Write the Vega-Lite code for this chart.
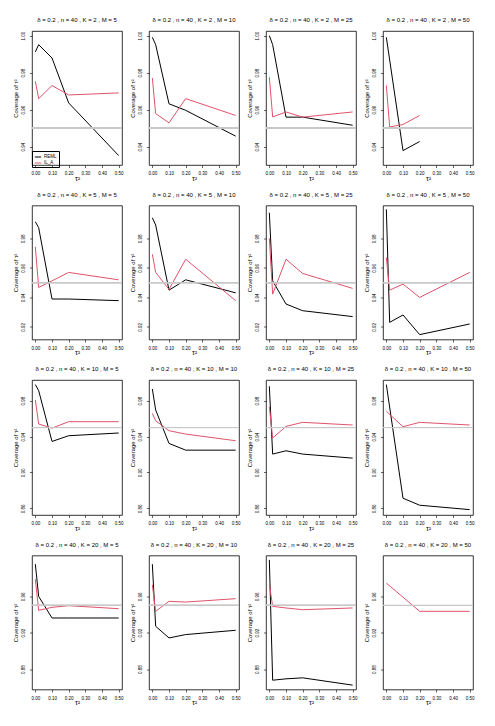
{
"$schema": "https://vega.github.io/schema/vega-lite/v6.json",
"background": "white",
"padding": {"left": 12, "top": 17, "right": 5, "bottom": 5},
"datasets": {"d": [
{"K":2,"M":5,"m":"REML","t":0,"c":0.9912},{"K":2,"M":5,"m":"REML","t":0.02,"c":0.9951},{"K":2,"M":5,"m":"REML","t":0.1,"c":0.9879},{"K":2,"M":5,"m":"REML","t":0.2,"c":0.9636},{"K":2,"M":5,"m":"REML","t":0.5,"c":0.9351},
{"K":2,"M":5,"m":"IL_A","t":0,"c":0.9753},{"K":2,"M":5,"m":"IL_A","t":0.02,"c":0.9659},{"K":2,"M":5,"m":"IL_A","t":0.1,"c":0.9730},{"K":2,"M":5,"m":"IL_A","t":0.2,"c":0.9679},{"K":2,"M":5,"m":"IL_A","t":0.5,"c":0.9690},
{"K":2,"M":10,"m":"REML","t":0,"c":0.9991},{"K":2,"M":10,"m":"REML","t":0.02,"c":0.9951},{"K":2,"M":10,"m":"REML","t":0.1,"c":0.9631},{"K":2,"M":10,"m":"REML","t":0.2,"c":0.9596},{"K":2,"M":10,"m":"REML","t":0.5,"c":0.9456},
{"K":2,"M":10,"m":"IL_A","t":0,"c":0.9771},{"K":2,"M":10,"m":"IL_A","t":0.02,"c":0.9578},{"K":2,"M":10,"m":"IL_A","t":0.1,"c":0.9528},{"K":2,"M":10,"m":"IL_A","t":0.2,"c":0.9659},{"K":2,"M":10,"m":"IL_A","t":0.5,"c":0.9568},
{"K":2,"M":25,"m":"REML","t":0,"c":1.0},{"K":2,"M":25,"m":"REML","t":0.02,"c":0.9951},{"K":2,"M":25,"m":"REML","t":0.1,"c":0.9559},{"K":2,"M":25,"m":"REML","t":0.2,"c":0.9559},{"K":2,"M":25,"m":"REML","t":0.5,"c":0.9515},
{"K":2,"M":25,"m":"IL_A","t":0,"c":0.9775},{"K":2,"M":25,"m":"IL_A","t":0.02,"c":0.9560},{"K":2,"M":25,"m":"IL_A","t":0.1,"c":0.9587},{"K":2,"M":25,"m":"IL_A","t":0.2,"c":0.9559},{"K":2,"M":25,"m":"IL_A","t":0.5,"c":0.9587},
{"K":2,"M":50,"m":"REML","t":0,"c":0.9991},{"K":2,"M":50,"m":"REML","t":0.1,"c":0.9378},{"K":2,"M":50,"m":"REML","t":0.2,"c":0.9427},
{"K":2,"M":50,"m":"IL_A","t":0,"c":0.9730},{"K":2,"M":50,"m":"IL_A","t":0.02,"c":0.9506},{"K":2,"M":50,"m":"IL_A","t":0.1,"c":0.9519},{"K":2,"M":50,"m":"IL_A","t":0.2,"c":0.9568},
{"K":5,"M":5,"m":"REML","t":0,"c":0.9912},{"K":5,"M":5,"m":"REML","t":0.02,"c":0.9872},{"K":5,"M":5,"m":"REML","t":0.1,"c":0.9389},{"K":5,"M":5,"m":"REML","t":0.2,"c":0.9389},{"K":5,"M":5,"m":"REML","t":0.5,"c":0.9378},
{"K":5,"M":5,"m":"IL_A","t":0,"c":0.9742},{"K":5,"M":5,"m":"IL_A","t":0.02,"c":0.9467},{"K":5,"M":5,"m":"IL_A","t":0.1,"c":0.9512},{"K":5,"M":5,"m":"IL_A","t":0.2,"c":0.9569},{"K":5,"M":5,"m":"IL_A","t":0.5,"c":0.9519},
{"K":5,"M":10,"m":"REML","t":0,"c":0.9939},{"K":5,"M":10,"m":"REML","t":0.02,"c":0.9890},{"K":5,"M":10,"m":"REML","t":0.1,"c":0.9449},{"K":5,"M":10,"m":"REML","t":0.2,"c":0.9519},{"K":5,"M":10,"m":"REML","t":0.5,"c":0.9431},
{"K":5,"M":10,"m":"IL_A","t":0,"c":0.9692},{"K":5,"M":10,"m":"IL_A","t":0.02,"c":0.9569},{"K":5,"M":10,"m":"IL_A","t":0.1,"c":0.9454},{"K":5,"M":10,"m":"IL_A","t":0.2,"c":0.9658},{"K":5,"M":10,"m":"IL_A","t":0.5,"c":0.9378},
{"K":5,"M":25,"m":"REML","t":0,"c":0.9973},{"K":5,"M":25,"m":"REML","t":0.02,"c":0.9512},{"K":5,"M":25,"m":"REML","t":0.1,"c":0.9355},{"K":5,"M":25,"m":"REML","t":0.2,"c":0.9310},{"K":5,"M":25,"m":"REML","t":0.5,"c":0.9270},
{"K":5,"M":25,"m":"IL_A","t":0,"c":0.9800},{"K":5,"M":25,"m":"IL_A","t":0.02,"c":0.9422},{"K":5,"M":25,"m":"IL_A","t":0.1,"c":0.9658},{"K":5,"M":25,"m":"IL_A","t":0.2,"c":0.9562},{"K":5,"M":25,"m":"IL_A","t":0.5,"c":0.9461},
{"K":5,"M":50,"m":"REML","t":0,"c":0.9996},{"K":5,"M":50,"m":"REML","t":0.02,"c":0.9231},{"K":5,"M":50,"m":"REML","t":0.1,"c":0.9281},{"K":5,"M":50,"m":"REML","t":0.2,"c":0.9148},{"K":5,"M":50,"m":"REML","t":0.5,"c":0.9220},
{"K":5,"M":50,"m":"IL_A","t":0,"c":0.9670},{"K":5,"M":50,"m":"IL_A","t":0.02,"c":0.9449},{"K":5,"M":50,"m":"IL_A","t":0.1,"c":0.9490},{"K":5,"M":50,"m":"IL_A","t":0.2,"c":0.9400},{"K":5,"M":50,"m":"IL_A","t":0.5,"c":0.9569},
{"K":10,"M":5,"m":"REML","t":0,"c":0.9979},{"K":10,"M":5,"m":"REML","t":0.02,"c":0.9912},{"K":10,"M":5,"m":"REML","t":0.1,"c":0.9345},{"K":10,"M":5,"m":"REML","t":0.2,"c":0.9409},{"K":10,"M":5,"m":"REML","t":0.5,"c":0.9439},
{"K":10,"M":5,"m":"IL_A","t":0,"c":0.9807},{"K":10,"M":5,"m":"IL_A","t":0.02,"c":0.9539},{"K":10,"M":5,"m":"IL_A","t":0.1,"c":0.9494},{"K":10,"M":5,"m":"IL_A","t":0.2,"c":0.9565},{"K":10,"M":5,"m":"IL_A","t":0.5,"c":0.9565},
{"K":10,"M":10,"m":"REML","t":0,"c":0.9930},{"K":10,"M":10,"m":"REML","t":0.02,"c":0.9696},{"K":10,"M":10,"m":"REML","t":0.1,"c":0.9323},{"K":10,"M":10,"m":"REML","t":0.2,"c":0.9248},{"K":10,"M":10,"m":"REML","t":0.5,"c":0.9248},
{"K":10,"M":10,"m":"IL_A","t":0,"c":0.9658},{"K":10,"M":10,"m":"IL_A","t":0.02,"c":0.9576},{"K":10,"M":10,"m":"IL_A","t":0.1,"c":0.9465},{"K":10,"M":10,"m":"IL_A","t":0.2,"c":0.9427},{"K":10,"M":10,"m":"IL_A","t":0.5,"c":0.9353},
{"K":10,"M":25,"m":"REML","t":0,"c":0.9960},{"K":10,"M":25,"m":"REML","t":0.02,"c":0.9204},{"K":10,"M":25,"m":"REML","t":0.1,"c":0.9241},{"K":10,"M":25,"m":"REML","t":0.2,"c":0.9204},{"K":10,"M":25,"m":"REML","t":0.5,"c":0.9159},
{"K":10,"M":25,"m":"IL_A","t":0,"c":0.9733},{"K":10,"M":25,"m":"IL_A","t":0.02,"c":0.9383},{"K":10,"M":25,"m":"IL_A","t":0.1,"c":0.9513},{"K":10,"M":25,"m":"IL_A","t":0.2,"c":0.9558},{"K":10,"M":25,"m":"IL_A","t":0.5,"c":0.9528},
{"K":10,"M":50,"m":"REML","t":0,"c":0.9979},{"K":10,"M":50,"m":"REML","t":0.1,"c":0.8712},{"K":10,"M":50,"m":"REML","t":0.2,"c":0.8634},{"K":10,"M":50,"m":"REML","t":0.5,"c":0.8585},
{"K":10,"M":50,"m":"IL_A","t":0,"c":0.9681},{"K":10,"M":50,"m":"IL_A","t":0.1,"c":0.9509},{"K":10,"M":50,"m":"IL_A","t":0.2,"c":0.9558},{"K":10,"M":50,"m":"IL_A","t":0.5,"c":0.9528},
{"K":20,"M":5,"m":"REML","t":0,"c":0.9953},{"K":20,"M":5,"m":"REML","t":0.02,"c":0.9599},{"K":20,"M":5,"m":"REML","t":0.1,"c":0.9362},{"K":20,"M":5,"m":"REML","t":0.2,"c":0.9362},{"K":20,"M":5,"m":"REML","t":0.5,"c":0.9362},
{"K":20,"M":5,"m":"IL_A","t":0,"c":0.9789},{"K":20,"M":5,"m":"IL_A","t":0.02,"c":0.9446},{"K":20,"M":5,"m":"IL_A","t":0.1,"c":0.9479},{"K":20,"M":5,"m":"IL_A","t":0.2,"c":0.9497},{"K":20,"M":5,"m":"IL_A","t":0.5,"c":0.9464},
{"K":20,"M":10,"m":"REML","t":0,"c":0.9953},{"K":20,"M":10,"m":"REML","t":0.02,"c":0.9271},{"K":20,"M":10,"m":"REML","t":0.1,"c":0.9143},{"K":20,"M":10,"m":"REML","t":0.2,"c":0.9180},{"K":20,"M":10,"m":"REML","t":0.5,"c":0.9227},
{"K":20,"M":10,"m":"IL_A","t":0,"c":0.9727},{"K":20,"M":10,"m":"IL_A","t":0.02,"c":0.9435},{"K":20,"M":10,"m":"IL_A","t":0.1,"c":0.9545},{"K":20,"M":10,"m":"IL_A","t":0.2,"c":0.9537},{"K":20,"M":10,"m":"IL_A","t":0.5,"c":0.9574},
{"K":20,"M":25,"m":"REML","t":0,"c":1.0},{"K":20,"M":25,"m":"REML","t":0.02,"c":0.8679},{"K":20,"M":25,"m":"REML","t":0.1,"c":0.8694},{"K":20,"M":25,"m":"REML","t":0.2,"c":0.8705},{"K":20,"M":25,"m":"REML","t":0.5,"c":0.8625},
{"K":20,"M":25,"m":"IL_A","t":0,"c":0.9734},{"K":20,"M":25,"m":"IL_A","t":0.02,"c":0.9490},{"K":20,"M":25,"m":"IL_A","t":0.1,"c":0.9472},{"K":20,"M":25,"m":"IL_A","t":0.2,"c":0.9453},{"K":20,"M":25,"m":"IL_A","t":0.5,"c":0.9472},
{"K":20,"M":50,"m":"IL_A","t":0,"c":0.9745},{"K":20,"M":50,"m":"IL_A","t":0.2,"c":0.9435},{"K":20,"M":50,"m":"IL_A","t":0.5,"c":0.9435}
]},
"resolve": {"scale": {"x": "independent", "y": "independent", "color": "shared"}, "legend": {"color": "shared"}},
"spacing": 9.5,
"vconcat": [
{
 "data": {"name": "d"},
 "transform": [{"filter": "datum.K == 2"}, {"calculate": "'δ = 0.2 , n = 40 , K = ' + datum.K + ' , M = ' + datum.M", "as": "ttl"}],
 "facet": {"column": {"field": "ttl", "type": "nominal", "title": null, "sort": {"field": "M", "op": "min"}}},
 "spacing": {"column": 27},
 "bounds": "flush",
 "resolve": {"axis": {"y": "independent", "x": "independent"}},
 "spec": {
  "width": 90, "height": 134,
  "layer": [
   {"mark": {"type": "line", "strokeWidth": 1, "clip": true},
    "encoding": {
     "x": {"field": "t", "type": "quantitative", "scale": {"domain": [-0.02, 0.52], "nice": false, "zero": false}, "axis": {"values": [0,0.1,0.2,0.3,0.4,0.5], "format": ".2f", "title": "τ²"}},
     "y": {"field": "c", "type": "quantitative", "scale": {"domain": [0.93, 1.0025], "nice": false, "zero": false}, "axis": {"values": [0.94,0.95,0.96,0.97,0.98,0.99,1.0], "format": ".2f", "title": "Coverage of τ²"}},
     "color": {"field": "m", "type": "nominal", "scale": {"domain": ["REML", "IL_A"], "range": ["black", "#DF536B"]}, "legend": {"title": null}}
    }},
   {"mark": {"type": "rule", "color": "#c8c8c8", "strokeWidth": 1}, "encoding": {"y": {"datum": 0.95}}}
  ]
 }
},
{
 "data": {"name": "d"},
 "transform": [{"filter": "datum.K == 5"}, {"calculate": "'δ = 0.2 , n = 40 , K = ' + datum.K + ' , M = ' + datum.M", "as": "ttl"}],
 "facet": {"column": {"field": "ttl", "type": "nominal", "title": null, "sort": {"field": "M", "op": "min"}}},
 "spacing": {"column": 27},
 "bounds": "flush",
 "resolve": {"axis": {"y": "independent", "x": "independent"}},
 "spec": {
  "width": 90, "height": 134,
  "layer": [
   {"mark": {"type": "line", "strokeWidth": 1, "clip": true},
    "encoding": {
     "x": {"field": "t", "type": "quantitative", "scale": {"domain": [-0.02, 0.52], "nice": false, "zero": false}, "axis": {"values": [0,0.1,0.2,0.3,0.4,0.5], "format": ".2f", "title": "τ²"}},
     "y": {"field": "c", "type": "quantitative", "scale": {"domain": [0.9115, 1.0022], "nice": false, "zero": false}, "axis": {"values": [0.92,0.94,0.96,0.98], "format": ".2f", "title": "Coverage of τ²"}},
     "color": {"field": "m", "type": "nominal", "scale": {"domain": ["REML", "IL_A"], "range": ["black", "#DF536B"]}, "legend": {"title": null}}
    }},
   {"mark": {"type": "rule", "color": "#c8c8c8", "strokeWidth": 1}, "encoding": {"y": {"datum": 0.95}}}
  ]
 }
},
{
 "data": {"name": "d"},
 "transform": [{"filter": "datum.K == 10"}, {"calculate": "'δ = 0.2 , n = 40 , K = ' + datum.K + ' , M = ' + datum.M", "as": "ttl"}],
 "facet": {"column": {"field": "ttl", "type": "nominal", "title": null, "sort": {"field": "M", "op": "min"}}},
 "spacing": {"column": 27},
 "bounds": "flush",
 "resolve": {"axis": {"y": "independent", "x": "independent"}},
 "spec": {
  "width": 90, "height": 135,
  "layer": [
   {"mark": {"type": "line", "strokeWidth": 1, "clip": true},
    "encoding": {
     "x": {"field": "t", "type": "quantitative", "scale": {"domain": [-0.02, 0.52], "nice": false, "zero": false}, "axis": {"values": [0,0.1,0.2,0.3,0.4,0.5], "format": ".2f", "title": "τ²"}},
     "y": {"field": "c", "type": "quantitative", "scale": {"domain": [0.8525, 1.003], "nice": false, "zero": false}, "axis": {"values": [0.86,0.88,0.9,0.92,0.94,0.96,0.98], "format": ".2f", "title": "Coverage of τ²"}},
     "color": {"field": "m", "type": "nominal", "scale": {"domain": ["REML", "IL_A"], "range": ["black", "#DF536B"]}, "legend": {"title": null}}
    }},
   {"mark": {"type": "rule", "color": "#c8c8c8", "strokeWidth": 1}, "encoding": {"y": {"datum": 0.95}}}
  ]
 }
},
{
 "data": {"name": "d"},
 "transform": [{"filter": "datum.K == 20"}, {"calculate": "'δ = 0.2 , n = 40 , K = ' + datum.K + ' , M = ' + datum.M", "as": "ttl"}],
 "facet": {"column": {"field": "ttl", "type": "nominal", "title": null, "sort": {"field": "M", "op": "min"}}},
 "spacing": {"column": 27},
 "bounds": "flush",
 "resolve": {"axis": {"y": "independent", "x": "independent"}},
 "spec": {
  "width": 90, "height": 134,
  "layer": [
   {"mark": {"type": "line", "strokeWidth": 1, "clip": true},
    "encoding": {
     "x": {"field": "t", "type": "quantitative", "scale": {"domain": [-0.02, 0.52], "nice": false, "zero": false}, "axis": {"values": [0,0.1,0.2,0.3,0.4,0.5], "format": ".2f", "title": "τ²"}},
     "y": {"field": "c", "type": "quantitative", "scale": {"domain": [0.8577, 1.0048], "nice": false, "zero": false}, "axis": {"values": [0.88,0.9,0.92,0.94,0.96,0.98], "format": ".2f", "title": "Coverage of τ²"}},
     "color": {"field": "m", "type": "nominal", "scale": {"domain": ["REML", "IL_A"], "range": ["black", "#DF536B"]}, "legend": {"title": null}}
    }},
   {"mark": {"type": "rule", "color": "#c8c8c8", "strokeWidth": 1}, "encoding": {"y": {"datum": 0.95}}}
  ]
 }
}
],
"config": {
 "font": "Liberation Sans",
 "view": {"stroke": "black", "strokeWidth": 0.8},
 "header": {"labelFontSize": 6, "labelColor": "black", "labelPadding": 8, "labelFont": "Liberation Sans"},
 "axis": {"grid": false, "domain": false, "tickColor": "black", "tickSize": 2.5, "tickWidth": 0.6, "labelFontSize": 4.5, "labelColor": "black", "labelOverlap": false, "titleFontSize": 6, "titleFontWeight": "normal", "titleColor": "black", "labelFont": "Liberation Sans", "titleFont": "Liberation Sans"},
 "axisY": {"labelAngle": 270, "labelAlign": "center", "labelBaseline": "bottom", "labelPadding": 4, "titlePadding": 2},
 "axisX": {"labelPadding": 3, "titlePadding": -1, "titleFontSize": 7},
 "legend": {"orient": "none", "legendX": 0, "legendY": 120, "direction": "vertical", "strokeColor": "black", "padding": 2, "symbolType": "stroke", "symbolSize": 40, "symbolStrokeWidth": 1, "labelFontSize": 4.5, "rowPadding": 0, "labelOffset": 2}
}
}
